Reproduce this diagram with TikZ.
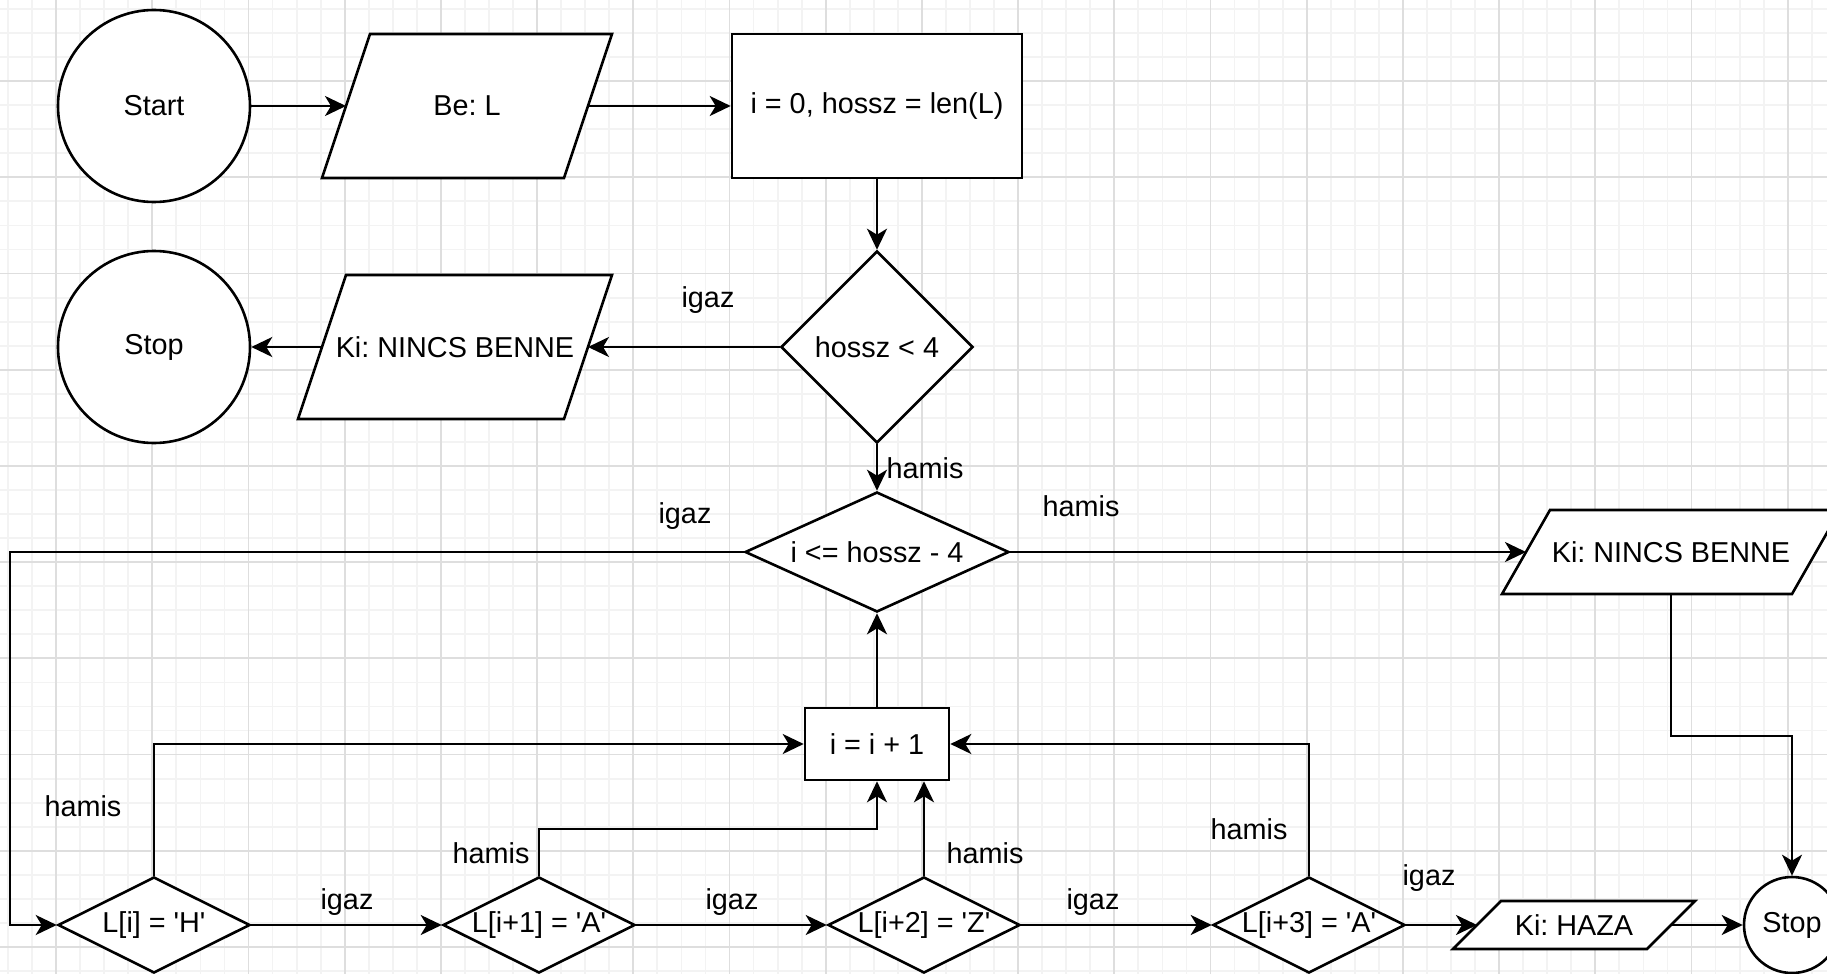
\documentclass[tikz,border=0pt]{standalone}
\usepackage{fontspec}
\setmainfont{Liberation Sans}
\usetikzlibrary{arrows.meta,shapes.geometric}
\pgfdeclarelayer{grid}
\pgfdeclarelayer{back}
\pgfsetlayers{grid,back,main}
\definecolor{gridminor}{RGB}{243,243,243}
\definecolor{gridmajor}{RGB}{222,222,222}
% text placed inside a diamond without widening it
\newcommand\ztext[1]{\makebox[0pt]{#1}}
% straight single quote
\newcommand\sq{\textquotesingle}
\frenchspacing

\begin{document}
\begin{tikzpicture}[x=0.5pt,y=-0.5pt,
  every node/.style={font=\fontsize{14.4pt}{17pt}\selectfont, inner sep=0pt},
  line/.style={line width=1.3pt, draw=black},
  flow/.style={line, -{Stealth[length=10.5pt,width=10pt,inset=3pt]}},
  termbox/.style={circle, line, fill=white, minimum size=#1},
  procbox/.style={rectangle, line, fill=white},
  decbox/.style={diamond, line, fill=white},
  iobox/.style={rectangle, draw=none, outer sep=0pt},
  lbl/.style={},
  minorgrid/.style={line width=0.9pt, draw=gridminor},
  majorgrid/.style={line width=0.9pt, draw=gridmajor},
]
\useasboundingbox (0,0) rectangle (1827,974);

% drawing paper with minor and major grid lines
\begin{pgfonlayer}{grid}
  \fill[white] (0,0) rectangle (1827,974);
  \foreach \k in {0,...,75}{\draw[minorgrid] ({8+24.05*\k},0) -- ({8+24.05*\k},974);}
  \foreach \k in {0,...,40}{\draw[minorgrid] (0,{9+24.05*\k}) -- (1827,{9+24.05*\k});}
  \foreach \k in {0,...,18}{\draw[majorgrid] ({56+96.2*\k},0) -- ({56+96.2*\k},974);}
  \foreach \k in {0,...,9}{\draw[majorgrid] (0,{81+96.2*\k}) -- (1827,{81+96.2*\k});}
\end{pgfonlayer}

\clip (0,0) rectangle (1827,974);

% terminals
\node[termbox=96pt] (start) at (154,106) {Start};
\node[termbox=96pt] (stop1) at (154,347) {Stop};
\node[termbox=48pt] (stop2) at (1792,925) {Stop};

% input / output boxes (outlines drawn below)
\node[iobox, minimum width=145pt, minimum height=72pt] (be)   at (467,106)  {Be: L};
\node[iobox, minimum width=157pt, minimum height=72pt] (kil)  at (455,347)  {Ki: NINCS BENNE};
\node[iobox, minimum width=169pt, minimum height=42pt] (kir)  at (1671,552) {Ki: NINCS BENNE};
\node[iobox, minimum width=121pt, minimum height=24pt] (haza) at (1574,925) {Ki: HAZA};

% processes
\node[procbox, minimum width=145pt, minimum height=72pt] (init) at (877,106) {i = 0, hossz = len(L)};
\node[procbox, minimum width=72pt, minimum height=36pt] (inc) at (877,744) {i = i + 1};

% decisions
\node[decbox, minimum width=96pt, minimum height=96pt] (c1) at (877,347) {\ztext{hossz < 4}};
\node[decbox, minimum width=132pt, minimum height=60pt] (c2) at (877,552) {\ztext{i <= hossz - 4}};
\node[decbox, minimum width=96pt, minimum height=48pt] (d1) at (154,925) {\ztext{L[i] = \sq H\sq}};
\node[decbox, minimum width=96pt, minimum height=48pt] (d2) at (539,925) {\ztext{L[i+1] = \sq A\sq}};
\node[decbox, minimum width=96pt, minimum height=48pt] (d3) at (924,925) {\ztext{L[i+2] = \sq Z\sq}};
\node[decbox, minimum width=96pt, minimum height=48pt] (d4) at (1309,925) {\ztext{L[i+3] = \sq A\sq}};

% parallelogram outlines behind the I/O texts
\begin{pgfonlayer}{back}
  \clip (0,0) rectangle (1827,974);
  \foreach \n in {be,kil,kir,haza}
    \draw[line, fill=white, line join=miter]
      (\n.south west) -- ([xshift=24pt]\n.north west) -- (\n.north east)
      -- ([xshift=-24pt]\n.south east) -- cycle;
\end{pgfonlayer}

% bend points
\coordinate (lp)   at (10,552);
\coordinate (kb)   at (1671,736);
\coordinate (d2up) at (539,829);

% connectors (negative shortening reaches the slanted sides)
\draw[flow, shorten >=-12pt] (start.east) -- (be.west);
\draw[flow, shorten <=-12pt] (be.east) -- (init.west);
\draw[flow] (init.south) -- (c1.north);
\draw[flow, shorten >=-12pt] (c1.west) -- (kil.east);
\draw[flow, shorten <=-12pt] (kil.west) -- (stop1.east);
\draw[flow] (c1.south) -- (c2.north);
\draw[flow] (c2.west) -- (lp) |- (d1.west);
\draw[flow, shorten >=-12pt] (c2.east) -- (kir.west);
\draw[flow] (kir.south) -- (kb) -| (stop2.north);
\draw[flow] (d1.north) |- (inc.west);
\draw[flow] (d1.east) -- (d2.west);
\draw[flow] (d2.north) -- (d2up) -| (inc.south);
\draw[flow] (d2.east) -- (d3.west);
\draw[flow] (d3.north) -- (d3.north |- inc.south);
\draw[flow] (d3.east) -- (d4.west);
\draw[flow] (d4.north) |- (inc.east);
\draw[flow, shorten >=-12pt] (d4.east) -- (haza.west);
\draw[flow, shorten <=-12pt] (haza.east) -- (stop2.west);
\draw[flow] (inc.north) -- (c2.south);

% branch labels
\node[lbl] (l1)  at (708,300)  {igaz};
\node[lbl] (l2)  at (925,468)  {hamis};
\node[lbl] (l3)  at (685,516)  {igaz};
\node[lbl] (l4)  at (1081,506) {hamis};
\node[lbl] (l5)  at (83,806)   {hamis};
\node[lbl] (l6)  at (347,902)  {igaz};
\node[lbl] (l7)  at (491,853)  {hamis};
\node[lbl] (l8)  at (732,902)  {igaz};
\node[lbl] (l9)  at (985,853)  {hamis};
\node[lbl] (l10) at (1093,902) {igaz};
\node[lbl] (l11) at (1249,829) {hamis};
\node[lbl] (l12) at (1429,878) {igaz};
\end{tikzpicture}
\end{document}
